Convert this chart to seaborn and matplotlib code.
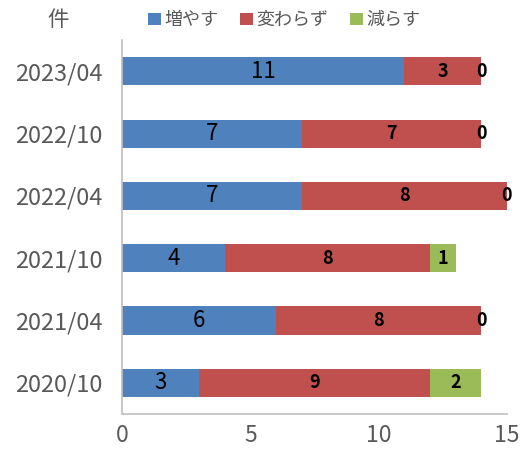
import numpy as np
import pandas as pd
import seaborn as sns
import matplotlib.pyplot as plt
from matplotlib.patches import Patch

# DATA
periods = ["2023/04", "2022/10", "2022/04", "2021/10", "2021/04", "2020/10"]
increase = [11, 7, 7, 4, 6, 3]
same = [3, 7, 8, 8, 8, 9]
decrease = [0, 0, 0, 1, 0, 2]
series_names = ["増やす", "変わらず", "減らす"]
colors = ["#4F81BD", "#C0504D", "#9BBB59"]

# PLOT SETTING
sns.set_theme(style="white")
plt.rcParams['font.family'] = ['Noto Sans CJK JP', 'DejaVu Sans']

df = pd.DataFrame({"period": periods, "inc": increase, "same": same, "dec": decrease})
df["c1"] = df["inc"]
df["c2"] = df["inc"] + df["same"]
df["c3"] = df["c2"] + df["dec"]

fig = plt.figure(figsize=(5.31, 4.5), dpi=100)
ax = fig.add_axes([0.2298, 0.08, 0.725, 0.831])

# stacked bars drawn as overlaid cumulative totals
for col, color in zip(["c3", "c2", "c1"], colors[::-1]):
    sns.barplot(data=df, y="period", x=col, color=color, width=0.45,
                orient="h", ax=ax, saturation=1, linewidth=0)

# LABELS
for i in range(len(periods)):
    ax.text(df["inc"][i] / 2, i, str(increase[i]), ha="center", va="center",
            fontsize=16, color="black")
    ax.text(df["c1"][i] + same[i] / 2, i, str(same[i]), ha="center", va="center",
            fontsize=13, fontweight="bold", color="black")
    ax.text(df["c2"][i] + decrease[i] / 2, i, str(decrease[i]), ha="center", va="center",
            fontsize=13, fontweight="bold", color="black")

ax.set_xlim(0, 15)
ax.set_ylim(5.5, -0.5)
ax.set_xticks([0, 5, 10, 15])
ax.set_xlabel("")
ax.set_ylabel("")
ax.tick_params(axis="x", direction="in", length=5, color="#BFBFBF", labelsize=16.5,
               labelcolor="#595959", pad=7)
ax.tick_params(axis="y", length=0, labelsize=17, labelcolor="#595959", pad=14)
for s in ["top", "right"]:
    ax.spines[s].set_visible(False)
for s in ["left", "bottom"]:
    ax.spines[s].set_color("#BFBFBF")
    ax.spines[s].set_linewidth(1.2)

fig.text(0.109, 0.955, "件", fontsize=15.5, color="#595959", ha="center", va="center")

handles = [Patch(facecolor=c, edgecolor="none") for c in colors]
fig.legend(handles, series_names, loc="center", bbox_to_anchor=(0.535, 0.955), ncol=3,
           frameon=False, fontsize=13, handlelength=0.7, handleheight=0.7,
           handletextpad=0.2, columnspacing=1.2, labelcolor="#595959")

plt.savefig("out.png", dpi=100)
plt.close()
